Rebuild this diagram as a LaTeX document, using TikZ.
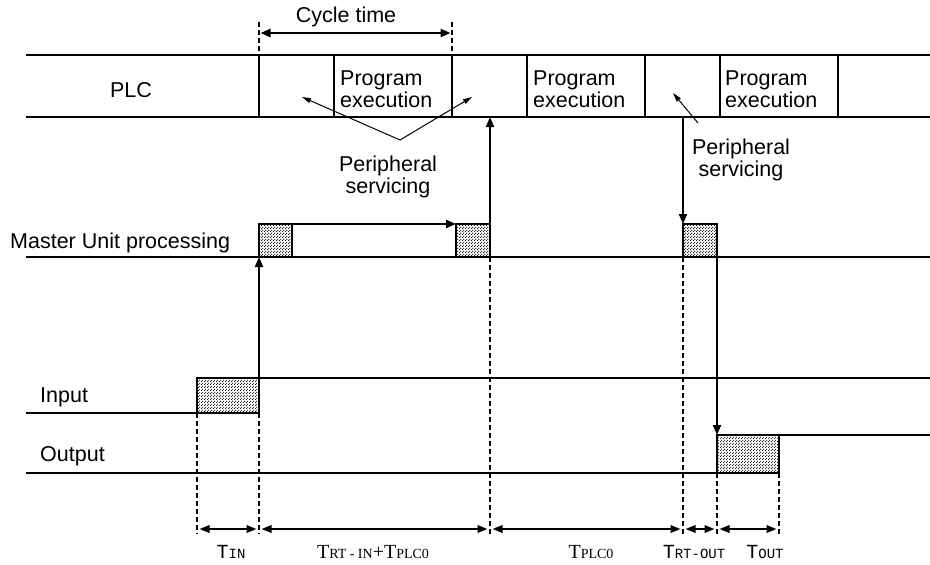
\documentclass[tikz,border=0pt]{standalone}
\usepackage{fontspec}
\setmainfont{Liberation Sans}
\newfontfamily\tserif{Liberation Serif}
\newfontfamily\tmono{Liberation Mono}
\usetikzlibrary{arrows.meta,patterns}

\pgfdeclarepatternformonly{stip}{\pgfpointorigin}{\pgfpoint{3pt}{3pt}}{\pgfpoint{3pt}{3pt}}{%
  \pgfpathcircle{\pgfpoint{0.75pt}{0.75pt}}{0.7pt}%
  \pgfpathcircle{\pgfpoint{2.25pt}{2.25pt}}{0.7pt}%
  \pgfusepath{fill}}

\newcommand{\bigT}[1]{{\fontsize{20}{20}\selectfont #1}}
\newcommand{\smT}[1]{{\fontsize{14}{14}\selectfont #1}}

\begin{document}
\begin{tikzpicture}[x=1pt,y=-1pt,>={Triangle[length=10pt,width=8pt]},
   font=\fontsize{21.5}{21.5}\selectfont,
   ln/.style={line width=2.2pt},
   dsh/.style={line width=1.6pt, dash pattern=on 5pt off 3pt},
   thn/.style={line width=1pt, -{Triangle[length=9pt,width=5pt]}},
   blk/.style={draw, line width=2.2pt, pattern=stip, inner sep=0pt, outer sep=0pt, anchor=south west},
   dim/.style={line width=2pt, {Triangle[length=10pt,width=7.5pt]}-{Triangle[length=10pt,width=7.5pt]}, shorten <=2.5pt, shorten >=2.5pt},
   tl/.style={anchor=base, inner sep=0pt}]
  \useasboundingbox (0,0) rectangle (930,565);
  % PLC band
  \draw[ln] (26,55) -- (930,55);
  \draw[ln] (26,117) -- (930,117);
  \foreach \x in {259,334,452,527,645,720,838}
    \draw[ln] (\x,55) -- (\x,117);
  \node[tl] (plc) at (131,97) {PLC};
  \foreach \n/\x in {1/340,2/533,3/725}
    \node[anchor=west, align=left, inner sep=0pt] (pe\n) at (\x,89) {Program\\execution};
  % cycle time
  \coordinate (c1) at (259,33);
  \coordinate (c2) at (452,33);
  \draw[dsh] (259,22) -- (259,55);
  \draw[dsh] (452,22) -- (452,55);
  \draw[ln,<->,shorten <=1.5pt,shorten >=1.5pt] (c1) -- (c2);
  \node[tl] (cyc) at (346,22) {Cycle time};
  % peripheral servicing
  \node[align=center, inner sep=0pt] (ps1) at (388,177) {Peripheral\\servicing};
  \coordinate (v1) at (400,140);
  \coordinate (s1) at (302,97);
  \coordinate (s2) at (472,97);
  \draw[thn] (v1) -- (s1);
  \draw[thn] (v1) -- (s2);
  \node[align=center, inner sep=0pt] (ps2) at (741,160) {Peripheral\\servicing};
  \coordinate (v2) at (698,123);
  \coordinate (s3) at (673,93);
  \draw[thn] (v2) -- (s3);
  % master unit
  \node[anchor=base west, inner sep=0pt] (mu) at (10,248) {Master Unit processing};
  \draw[ln] (26,257) -- (930,257);
  \node[blk, minimum width=33pt, minimum height=33pt] (mb1) at (259,257) {};
  \node[blk, minimum width=34pt, minimum height=33pt] (mb2) at (456,257) {};
  \node[blk, minimum width=34pt, minimum height=33pt] (mb3) at (683,257) {};
  \draw[ln,->] (mb1.north east) -- (mb2.north west);
  \coordinate (p2) at (490,117);
  \coordinate (p3) at (683,117);
  \draw[ln,->] (mb2.north east) -- (p2);
  \draw[ln,->] (p3) -- (mb3.north west);
  % input
  \node[anchor=base west, inner sep=0pt] (in) at (40,402) {Input};
  \node[blk, minimum width=62pt, minimum height=35pt] (inb) at (197,413) {};
  \draw[ln] (26,413) -- (inb.south west);
  \draw[ln] (inb.north east) -- (930,378);
  \draw[ln,->] (inb.south east) -- (mb1.south west);
  % output
  \node[anchor=base west, inner sep=0pt] (out) at (40,461) {Output};
  \node[blk, minimum width=62pt, minimum height=38pt] (outb) at (717,473) {};
  \draw[ln] (26,473) -- (outb.south west);
  \draw[ln] (outb.north east) -- (930,435);
  \draw[ln,->] (mb3.south east) -- (outb.north west);
  % timings
  \foreach \x/\y in {197/413,259/413,490/257,683/257,717/473,779/473}
    \draw[dsh] (\x,\y) -- (\x,534);
  \foreach \n/\x in {0/197,1/259,2/490,3/683,4/717,5/779}
    \coordinate (d\n) at (\x,529);
  \foreach \a/\b in {0/1,1/2,2/3,3/4,4/5}
    \draw[dim] (d\a) -- (d\b);
  \node[tl] (tin) at (231,558) {\tmono\bigT{T}\smT{IN}};
  \node[tl] (trt) at (373,558) {\tserif\bigT{T}\smT{RT - IN}\bigT{+T}\smT{PLC0}};
  \node[tl] (tplc) at (591,558) {\tserif\bigT{T}\smT{PLC0}};
  \node[tl] (tro) at (694,558) {\tmono\bigT{T}\smT{RT-OUT}};
  \node[tl] (tout) at (765,558) {\tmono\bigT{T}\smT{OUT}};
\end{tikzpicture}
\end{document}
